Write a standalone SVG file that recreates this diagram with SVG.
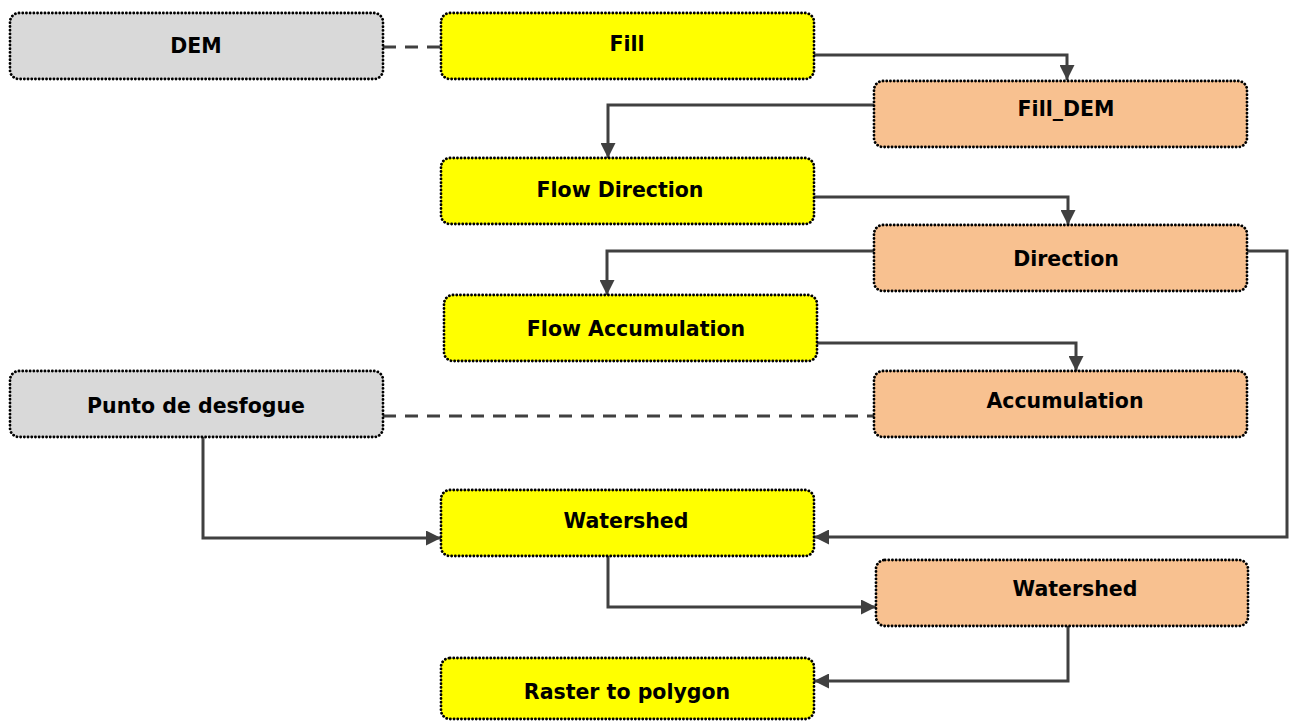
<svg xmlns="http://www.w3.org/2000/svg" width="1290" height="721" viewBox="0 0 1290 721">
<style>
.n rect{stroke:#000;stroke-width:2.8;stroke-dasharray:0.1 3.6;stroke-linecap:round}
.g rect{fill:#d9d9d9}
.y rect{fill:#ffff00}
.o rect{fill:#f8c190}
.n text{font-family:"DejaVu Sans",sans-serif;font-weight:bold;font-size:20.5px;fill:#000;text-anchor:middle;dominant-baseline:central}
.c path{fill:none;stroke:#404040;stroke-width:3}
.c .d{stroke-dasharray:13 9}
</style>
<defs>
<marker id="a" viewBox="0 0 10 10" refX="10" refY="5" markerWidth="5.5" markerHeight="5" markerUnits="strokeWidth" orient="auto">
<path d="M0,0 L10,5 L0,10 z" fill="#404040"/>
</marker>
</defs>
<g class="c">
<path class="d" d="M383,47 H441"/>
<path d="M814,55 H1067 V80" marker-end="url(#a)"/>
<path d="M874,105 H608 V158" marker-end="url(#a)"/>
<path d="M814,197 H1068 V225" marker-end="url(#a)"/>
<path d="M874,251 H607 V295" marker-end="url(#a)"/>
<path d="M1247,251 H1287 V537 H814" marker-end="url(#a)"/>
<path d="M817,343 H1076 V371" marker-end="url(#a)"/>
<path class="d" d="M383,416 H874"/>
<path d="M203,437 V538 H441" marker-end="url(#a)"/>
<path d="M608,556 V607 H876" marker-end="url(#a)"/>
<path d="M1068,626 V681 H814" marker-end="url(#a)"/>
</g>
<g id="dem" class="n g"><rect x="10" y="13" width="373" height="66" rx="9"/><text x="196" y="46">DEM</text></g>
<g id="fill" class="n y"><rect x="441" y="13" width="373" height="66" rx="9"/><text x="627" y="44">Fill</text></g>
<g id="filldem" class="n o"><rect x="874" y="81" width="373" height="66" rx="9"/><text x="1066" y="109">Fill_DEM</text></g>
<g id="flowdir" class="n y"><rect x="441" y="158" width="373" height="66" rx="9"/><text x="620" y="190">Flow Direction</text></g>
<g id="direction" class="n o"><rect x="874" y="225" width="373" height="66" rx="9"/><text x="1066" y="259">Direction</text></g>
<g id="flowacc" class="n y"><rect x="444" y="295" width="373" height="66" rx="9"/><text x="636" y="329">Flow Accumulation</text></g>
<g id="punto" class="n g"><rect x="10" y="371" width="373" height="66" rx="9"/><text x="196" y="406">Punto de desfogue</text></g>
<g id="accumulation" class="n o"><rect x="874" y="371" width="373" height="66" rx="9"/><text x="1065" y="401">Accumulation</text></g>
<g id="watershed1" class="n y"><rect x="441" y="490" width="373" height="66" rx="9"/><text x="626" y="521">Watershed</text></g>
<g id="watershed2" class="n o"><rect x="876" y="560" width="372" height="66" rx="9"/><text x="1075" y="589">Watershed</text></g>
<g id="raster" class="n y"><rect x="441" y="658" width="373" height="61" rx="9"/><text x="627" y="692">Raster to polygon</text></g>
</svg>
